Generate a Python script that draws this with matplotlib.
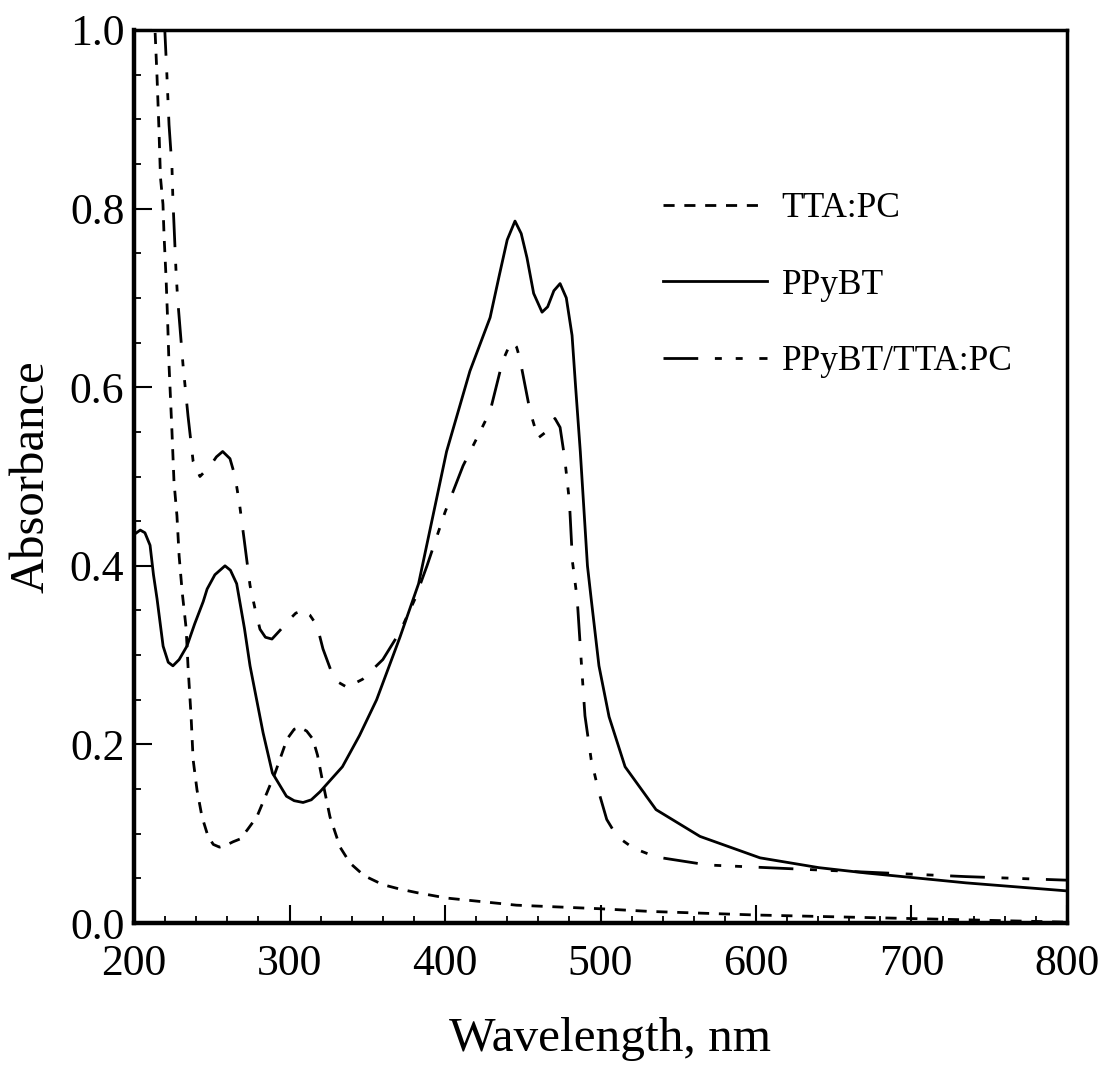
import numpy as np
import matplotlib
matplotlib.use("Agg")
import matplotlib.pyplot as plt
from matplotlib.ticker import MultipleLocator, FormatStrFormatter

plt.rcParams["font.family"] = ["Liberation Serif", "DejaVu Serif"]
plt.rcParams["lines.scale_dashes"] = False

# values
tta_pc_nm = [213, 214.8, 216, 217, 218.6, 219.3, 220.6, 221.5, 222.5, 224.4, 225.7,
             227.6, 229, 231, 233.5, 234.7, 236.7, 238, 240.5, 243.7, 247.6, 251,
             255, 259, 263.7, 268, 272.7, 279, 285.5, 290.7, 298.4, 303, 306.8, 311,
             315, 318, 321, 326, 332.5, 339, 348, 360, 371, 382, 401, 446, 500, 532,
             600, 701, 800]
tta_pc_abs = [1.02, 0.947, 0.89, 0.835, 0.805, 0.77, 0.722, 0.68, 0.625, 0.55, 0.494,
              0.456, 0.411, 0.37, 0.33, 0.288, 0.231, 0.183, 0.149, 0.119, 0.097, 0.088,
              0.085, 0.087, 0.091, 0.094, 0.104, 0.119, 0.146, 0.168, 0.206, 0.217, 0.219,
              0.215, 0.206, 0.188, 0.161, 0.119, 0.085, 0.067, 0.053, 0.043, 0.038, 0.034,
              0.028, 0.02, 0.016, 0.013, 0.009, 0.005, 0.001]

ppybt_nm = [200, 204, 207, 210.3, 212.5, 214.8, 218.7, 222, 225, 229, 234, 239, 244.5,
            247, 252, 258.5, 262, 266, 269, 271, 274.6, 283, 289, 298, 303, 308.7, 314,
            319.6, 334, 345, 356, 371, 383, 401, 416, 429, 435, 440, 445, 449, 452.7,
            457, 462.4, 466, 470, 474, 478, 481.7, 484, 487, 491.6, 494, 499, 505.5,
            515.8, 535.7, 564, 602.6, 640.5, 671, 735, 800]
ppybt_abs = [0.435, 0.44, 0.437, 0.423, 0.39, 0.363, 0.31, 0.292, 0.288, 0.295, 0.31,
             0.335, 0.36, 0.374, 0.39, 0.40, 0.395, 0.38, 0.35, 0.33, 0.288, 0.213, 0.168,
             0.142, 0.137, 0.135, 0.138, 0.147, 0.175, 0.21, 0.25, 0.32, 0.38, 0.528,
             0.618, 0.678, 0.726, 0.765, 0.786, 0.772, 0.745, 0.705, 0.684, 0.69, 0.708,
             0.716, 0.70, 0.658, 0.60, 0.528, 0.40, 0.363, 0.288, 0.231, 0.175, 0.127,
             0.097, 0.073, 0.062, 0.056, 0.045, 0.036]

blend_nm = [219.5, 221, 222.5, 224.4, 225, 225.7, 227, 228, 231.5, 234.7, 238, 242.4,
            249, 253, 257, 261.7, 265, 268, 271, 274.6, 277.8, 281, 284.5, 288.7, 294,
            300, 304, 308.7, 313, 317.7, 321.5, 327, 331, 337, 347, 360, 371, 380.7,
            388.4, 400, 411.6, 422.5, 429, 437, 441, 443.7, 446, 448, 454.7, 459.8, 465,
            470.7, 474, 477, 480, 482, 485, 487.5, 490, 494, 499, 504, 510.6, 521, 535.7,
            569, 633, 684, 735, 800]
blend_abs = [1.01, 0.955, 0.894, 0.846, 0.81, 0.782, 0.73, 0.70, 0.625, 0.568, 0.517,
             0.50, 0.512, 0.522, 0.528, 0.52, 0.50, 0.467, 0.427, 0.378, 0.352, 0.329,
             0.32, 0.318, 0.328, 0.34, 0.347, 0.35, 0.345, 0.333, 0.307, 0.281, 0.27,
             0.264, 0.273, 0.295, 0.326, 0.363, 0.40, 0.46, 0.512, 0.55, 0.573, 0.629,
             0.645, 0.65, 0.645, 0.633, 0.573, 0.543, 0.55, 0.565, 0.555, 0.52, 0.472,
             0.404, 0.363, 0.296, 0.232, 0.183, 0.146, 0.116, 0.097, 0.084, 0.074, 0.065,
             0.06, 0.056, 0.052, 0.048]

fig = plt.figure(figsize=(11.05, 10.66), dpi=100)
ax = fig.add_axes([0.1213, 0.1341, 0.8443, 0.8378])

ax.plot(tta_pc_nm, tta_pc_abs, color="black", lw=2.0, ls=(0, (8, 7)), label="TTA:PC")
ax.plot(ppybt_nm, ppybt_abs, color="black", lw=2.0, ls="-", label="PPyBT")
ax.plot(blend_nm, blend_abs, color="black", lw=2.0,
        ls=(0, (25, 12, 5, 10, 5, 12)), label="PPyBT/TTA:PC")

ax.set_xlim(200, 800)
ax.set_ylim(0, 1.0)
ax.xaxis.set_major_locator(MultipleLocator(100))
ax.xaxis.set_minor_locator(MultipleLocator(20))
ax.yaxis.set_major_locator(MultipleLocator(0.2))
ax.yaxis.set_minor_locator(MultipleLocator(0.05))
ax.yaxis.set_major_formatter(FormatStrFormatter("%.1f"))

ax.tick_params(which="both", direction="in", top=False, right=False,
               labelsize=31.5, color="black")
ax.tick_params(axis="x", which="major", length=13, width=1.5, pad=15)
ax.tick_params(axis="y", which="major", length=13, width=1.5, pad=7)
ax.tick_params(which="minor", length=5, width=1.3)

for side in ["left", "bottom"]:
    ax.spines[side].set_linewidth(3.2)
for side in ["top", "right"]:
    ax.spines[side].set_linewidth(2.5)

ax.set_xlabel("Wavelength, nm", fontsize=35.5)
ax.xaxis.set_label_coords(0.51, -0.105)
ax.set_ylabel("Absorbance", fontsize=35, labelpad=12)

leg = ax.legend(loc="upper left", bbox_to_anchor=(0.567, 0.818), frameon=False,
                fontsize=25.5, handlelength=2.95, handletextpad=0.4,
                labelspacing=1.22, borderpad=0, borderaxespad=0)

fig.savefig("out.png", dpi=100)
